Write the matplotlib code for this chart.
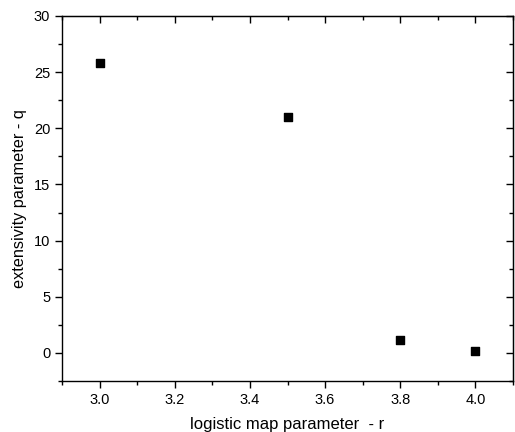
import numpy as np
import matplotlib
matplotlib.use("Agg")
import matplotlib.pyplot as plt
from matplotlib.ticker import MultipleLocator, FormatStrFormatter

plt.rcParams['font.family'] = ['Liberation Sans', 'DejaVu Sans']

# logistic map parameter r vs extensivity parameter q
r_values = [3.0, 3.5, 3.8, 4.0]
q_values = [25.85, 20.97, 1.12, 0.17]

fig = plt.figure(figsize=(5.15, 4.32), dpi=100)
ax = fig.add_axes([62 / 515, 1 - 381 / 432, 451 / 515, 365 / 432])

ax.scatter(r_values, q_values, marker='s', s=30, color='black', zorder=3)

ax.set_xlim(2.9, 4.1)
ax.set_ylim(-2.5, 30)
ax.xaxis.set_major_locator(MultipleLocator(0.2))
ax.xaxis.set_minor_locator(MultipleLocator(0.1))
ax.yaxis.set_major_locator(MultipleLocator(5))
ax.yaxis.set_minor_locator(MultipleLocator(2.5))
ax.xaxis.set_major_formatter(FormatStrFormatter('%.1f'))

ax.tick_params(which='both', direction='out', labelsize=10.5, width=1, colors='black')
ax.tick_params(which='major', length=5)
ax.tick_params(which='minor', length=3)

# inward ticks on the top and right edges, without labels
sec_x = ax.secondary_xaxis('top')
sec_x.xaxis.set_major_locator(MultipleLocator(0.2))
sec_x.xaxis.set_minor_locator(MultipleLocator(0.1))
sec_x.tick_params(which='both', direction='in', labeltop=False, width=1)
sec_x.tick_params(which='major', length=5)
sec_x.tick_params(which='minor', length=3)
sec_y = ax.secondary_yaxis('right')
sec_y.yaxis.set_major_locator(MultipleLocator(5))
sec_y.yaxis.set_minor_locator(MultipleLocator(2.5))
sec_y.tick_params(which='both', direction='in', labelright=False, width=1)
sec_y.tick_params(which='major', length=5)
sec_y.tick_params(which='minor', length=3)

for spine in ax.spines.values():
    spine.set_linewidth(1)

ax.set_xlabel('logistic map parameter  - r', fontsize=12, labelpad=7)
ax.set_ylabel('extensivity parameter - q', fontsize=11.7, labelpad=5)

fig.savefig('out.png', dpi=100)
